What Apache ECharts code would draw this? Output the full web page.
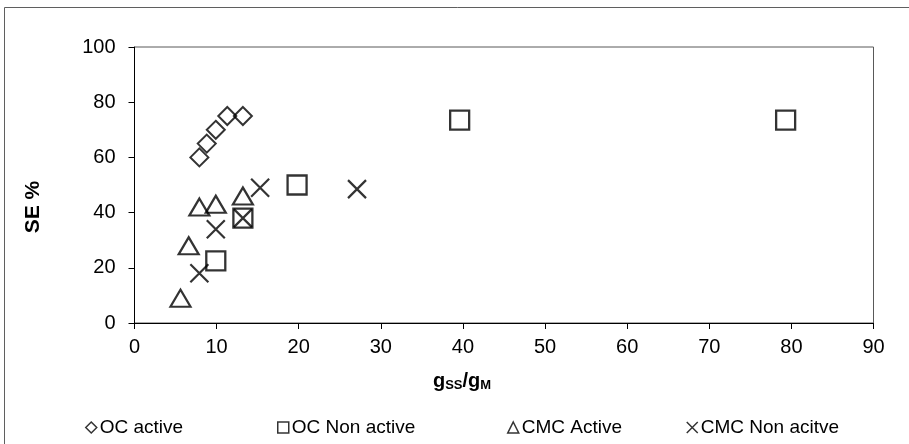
<!DOCTYPE html>
<html>
<head>
<meta charset="utf-8">
<script src="https://cdn.jsdelivr.net/npm/echarts@6/dist/echarts.min.js"></script>
<style>
html,body{margin:0;padding:0;background:#fff;}
#chart{width:909px;height:444px;}
</style>
</head>
<body>
<div id="chart"></div>
<script>
var seriesNames = ['OC active', 'OC Non active', 'CMC Active', 'CMC Non acitve'];
var ocActive = [[7.9, 60], [8.8, 65], [9.9, 70], [11.3, 75], [13.2, 75]];
var ocNonActive = [[9.9, 22.5], [13.2, 38], [19.8, 50], [39.6, 73.5], [79.3, 73.5]];
var cmcActive = [[5.6, 9], [6.6, 28], [7.9, 42], [9.9, 43], [13.2, 46]];
var cmcNonActive = [[7.9, 18], [9.9, 34], [13.2, 38], [15.3, 49], [27.1, 48.5]];
var xTicks = [0, 10, 20, 30, 40, 50, 60, 70, 80, 90];
var yTicks = [0, 20, 40, 60, 80, 100];

var FONT = 'Arial, "Liberation Sans", sans-serif';
var crossPath = 'path://M0,0L10,10M10,0L0,10';
var chart = echarts.init(document.getElementById('chart'), null, {renderer: 'canvas'});

function mkSeries(name, data, symbol, size, bw) {
  return {
    name: name, type: 'scatter', data: data, symbol: symbol, symbolSize: size,
    itemStyle: {color: 'rgba(0,0,0,0)', borderColor: '#000', borderWidth: bw},
    emphasis: {disabled: true}, z: 3
  };
}
function mkLegend(name, icon, left) {
  return {
    data: [{name: name, icon: icon}], left: left, top: 418, padding: 0,
    itemWidth: 11, itemHeight: 11, itemGap: 0,
    itemStyle: {color: 'rgba(0,0,0,0)', borderColor: '#000', borderWidth: 1.5},
    textStyle: {fontFamily: FONT, fontSize: 19, color: '#000', padding: [0, 0, 0, -2]},
    selectedMode: false
  };
}

var option = {
  animation: false,
  backgroundColor: '#fff',
  grid: {left: 134.5, right: 35.5, top: 47, bottom: 121, show: true, borderColor: '#595959', borderWidth: 1},
  xAxis: {
    type: 'value', min: xTicks[0], max: xTicks[xTicks.length - 1], interval: 10,
    axisLine: {show: true, onZero: false, lineStyle: {color: '#000', width: 1}},
    axisTick: {show: true, length: 6, lineStyle: {color: '#000'}},
    axisLabel: {fontFamily: FONT, fontSize: 20, color: '#000', margin: 14},
    splitLine: {show: false}
  },
  yAxis: {
    type: 'value', min: yTicks[0], max: yTicks[yTicks.length - 1], interval: 20,
    axisLine: {show: true, onZero: false, lineStyle: {color: '#000', width: 1}},
    axisTick: {show: true, length: 6, lineStyle: {color: '#000'}},
    axisLabel: {fontFamily: FONT, fontSize: 20, color: '#000', margin: 19},
    splitLine: {show: false}
  },
  legend: [
    mkLegend(seriesNames[0], 'diamond', 85),
    mkLegend(seriesNames[1], 'rect', 277),
    mkLegend(seriesNames[2], 'triangle', 507),
    mkLegend(seriesNames[3], crossPath, 686)
  ],
  graphic: [
    {type: 'rect', silent: true, z: -1,
     shape: {x: 4.5, y: 7.5, width: 920, height: 460},
     style: {fill: 'none', stroke: '#5f5f5f', lineWidth: 1}},
    {type: 'text', silent: true, x: 33, y: 207, rotation: Math.PI / 2,
     style: {text: 'SE %', font: 'bold 21px ' + FONT, fill: '#000', align: 'center', verticalAlign: 'middle'}},
    {type: 'text', silent: true, x: 462, y: 381,
     style: {
       text: '{g|g}{s|SS}{g|/g}{s|M}',
       align: 'center', verticalAlign: 'middle',
       rich: {
         g: {fontFamily: FONT, fontWeight: 'bold', fontSize: 20, lineHeight: 22, fill: '#000', color: '#000'},
         s: {fontFamily: FONT, fontWeight: 'bold', fontSize: 13, lineHeight: 12, verticalAlign: 'bottom', fill: '#000', color: '#000'}
       }
     }}
  ],
  series: [
    mkSeries(seriesNames[0], ocActive, 'diamond', [18, 18], 2),
    mkSeries(seriesNames[1], ocNonActive, 'rect', [19, 19], 2.3),
    mkSeries(seriesNames[2], cmcActive, 'triangle', [20, 17], 2.2),
    mkSeries(seriesNames[3], cmcNonActive, crossPath, [18, 18], 2.2)
  ]
};
chart.setOption(option);
</script>
</body>
</html>
